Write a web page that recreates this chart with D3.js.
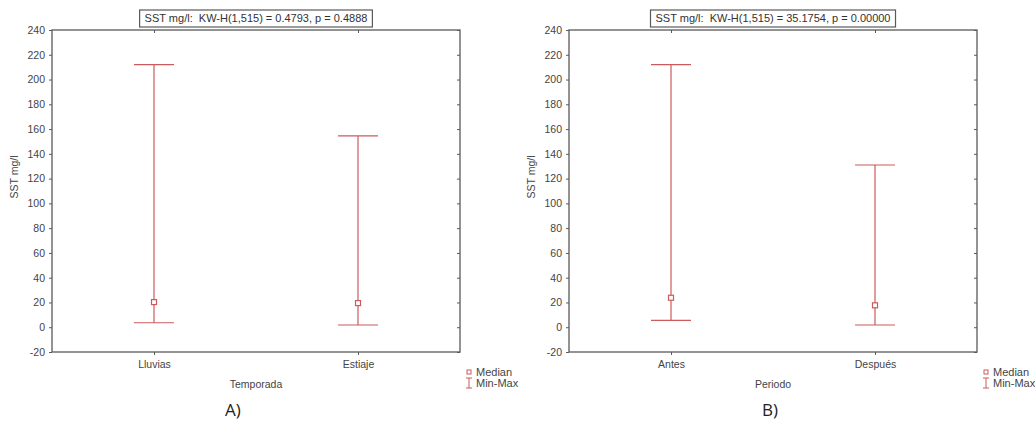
<!DOCTYPE html>
<html>
<head>
<meta charset="utf-8">
<script src="https://cdn.jsdelivr.net/npm/d3@7"></script>
<style>
  body { margin: 0; background: #fff; }
  text { font-family: "Liberation Sans", Arial, sans-serif; }
</style>
</head>
<body>
<div id="wrapper"></div>
<script>
// data
const categoriesA = ["Lluvias", "Estiaje"]
const mediansA = [20.3, 19.5]
const minsA = [3.6, 1.8]
const maxsA = [212, 154.5]

const categoriesB = ["Antes", "Después"]
const mediansB = [23.8, 17.7]
const minsB = [5.6, 1.8]
const maxsB = [212, 131]

const yTicks = [-20, 0, 20, 40, 60, 80, 100, 120, 140, 160, 180, 200, 220, 240]
const titles = [
  "SST mg/l:  KW-H(1,515) = 0.4793, p = 0.4888",
  "SST mg/l:  KW-H(1,515) = 35.1754, p = 0.00000"
]
const xLabels = ["Temporada", "Periodo"]
const panelLabels = ["A)", "B)"]
const yLabel = "SST mg/l"

const red = "#cc5a5d"
const frameColor = "#5a5a5a"
const textColor = "#444"

const svg = d3.select("#wrapper")
  .append("svg")
  .attr("width", 1035)
  .attr("height", 421)

const panels = [
  { left: 52, right: 460, labelX: 225, cats: categoriesA, med: mediansA, min: minsA, max: maxsA },
  { left: 569, right: 977, labelX: 762, cats: categoriesB, med: mediansB, min: minsB, max: maxsB },
]
const plotTop = 30, plotBottom = 352

panels.forEach((p, i) => {
  const g = svg.append("g")
  const width = p.right - p.left

  const yScale = d3.scaleLinear()
    .domain([-20, 240])
    .range([plotBottom, plotTop])

  const xScale = d3.scalePoint()
    .domain(p.cats)
    .range([p.left, p.right])
    .padding(0.5)

  // frame
  g.append("rect")
    .attr("x", p.left)
    .attr("y", plotTop)
    .attr("width", width)
    .attr("height", plotBottom - plotTop)
    .attr("fill", "none")
    .attr("stroke", frameColor)
    .attr("stroke-width", 1.3)

  // left axis
  const yAxis = g.append("g")
    .attr("transform", `translate(${p.left},0)`)
    .call(d3.axisLeft(yScale).tickValues(yTicks).tickSize(3).tickPadding(4).tickFormat(d => String(d)))
  yAxis.select(".domain").remove()
  yAxis.selectAll("line").attr("stroke", frameColor)
  yAxis.selectAll("text")
    .attr("fill", textColor)
    .style("font-size", "10.5px")

  // right axis, inward ticks
  const yAxisR = g.append("g")
    .attr("transform", `translate(${p.right},0)`)
    .call(d3.axisLeft(yScale).tickValues(yTicks).tickSize(3).tickFormat(""))
  yAxisR.select(".domain").remove()
  yAxisR.selectAll("line").attr("stroke", frameColor)

  // bottom axis
  const xAxis = g.append("g")
    .attr("transform", `translate(0,${plotBottom})`)
    .call(d3.axisBottom(xScale).tickSize(3).tickPadding(6))
  xAxis.select(".domain").remove()
  xAxis.selectAll("line").attr("stroke", frameColor)
  xAxis.selectAll("text")
    .attr("fill", textColor)
    .style("font-size", "10.5px")

  // top axis, inward ticks
  const xAxisT = g.append("g")
    .attr("transform", `translate(0,${plotTop})`)
    .call(d3.axisBottom(xScale).tickSize(3).tickFormat(""))
  xAxisT.select(".domain").remove()
  xAxisT.selectAll("line").attr("stroke", frameColor)

  // axis titles
  g.append("text")
    .attr("x", (p.left + p.right) / 2)
    .attr("y", 388)
    .attr("text-anchor", "middle")
    .attr("fill", textColor)
    .style("font-size", "10.5px")
    .text(xLabels[i])

  g.append("text")
    .attr("transform", `translate(${p.left - 34},${(plotTop + plotBottom) / 2 - 14}) rotate(-90)`)
    .attr("text-anchor", "middle")
    .attr("fill", textColor)
    .style("font-size", "10.5px")
    .text(yLabel)

  // title box
  const title = g.append("text")
    .attr("x", (p.left + p.right) / 2)
    .attr("y", 22)
    .attr("text-anchor", "middle")
    .attr("fill", "#333")
    .style("font-size", "11px")
    .style("white-space", "pre")
    .text(titles[i])
  const bb = title.node().getBBox()
  g.insert("rect", () => title.node())
    .attr("x", bb.x - 5)
    .attr("y", 10)
    .attr("width", bb.width + 10)
    .attr("height", 17)
    .attr("fill", "#fff")
    .attr("stroke", frameColor)
    .attr("stroke-width", 1.2)

  // min-max whiskers
  const idx = d3.range(p.cats.length)
  const w = g.append("g").attr("stroke", red).attr("stroke-width", 1.2).attr("fill", "none")
  w.selectAll(".stem").data(idx).join("line")
    .attr("class", "stem")
    .attr("x1", d => xScale(p.cats[d]))
    .attr("x2", d => xScale(p.cats[d]))
    .attr("y1", d => yScale(p.min[d]))
    .attr("y2", d => yScale(p.max[d]))
  w.selectAll(".capTop").data(idx).join("line")
    .attr("class", "capTop")
    .attr("x1", d => xScale(p.cats[d]) - 20)
    .attr("x2", d => xScale(p.cats[d]) + 20)
    .attr("y1", d => yScale(p.max[d]))
    .attr("y2", d => yScale(p.max[d]))
  w.selectAll(".capBot").data(idx).join("line")
    .attr("class", "capBot")
    .attr("x1", d => xScale(p.cats[d]) - 20)
    .attr("x2", d => xScale(p.cats[d]) + 20)
    .attr("y1", d => yScale(p.min[d]))
    .attr("y2", d => yScale(p.min[d]))
  w.selectAll("rect").data(idx).join("rect")
    .attr("x", d => xScale(p.cats[d]) - 2.5)
    .attr("y", d => yScale(p.med[d]) - 2.5)
    .attr("width", 5)
    .attr("height", 5)
    .attr("fill", "#fff")

  // legend
  const lx = p.right + 9
  const leg = g.append("g")
  leg.append("rect")
    .attr("x", lx - 2).attr("y", 370).attr("width", 4).attr("height", 4)
    .attr("fill", "none").attr("stroke", red).attr("stroke-width", 1)
  leg.append("line")
    .attr("x1", lx).attr("x2", lx).attr("y1", 378).attr("y2", 388)
    .attr("stroke", red)
  leg.append("line")
    .attr("x1", lx - 3).attr("x2", lx + 3).attr("y1", 378).attr("y2", 378)
    .attr("stroke", red)
  leg.append("line")
    .attr("x1", lx - 3).attr("x2", lx + 3).attr("y1", 388).attr("y2", 388)
    .attr("stroke", red)
  leg.append("text")
    .attr("x", lx + 7).attr("y", 376)
    .attr("fill", textColor).style("font-size", "11px")
    .text("Median")
  leg.append("text")
    .attr("x", lx + 7).attr("y", 387)
    .attr("fill", textColor).style("font-size", "11px")
    .text("Min-Max")

  // panel label
  g.append("text")
    .attr("x", p.labelX)
    .attr("y", 416)
    .attr("fill", "#222")
    .style("font-size", "17px")
    .style("font-family", "'Open Sans', sans-serif")
    .text(panelLabels[i])
})
</script>
</body>
</html>
